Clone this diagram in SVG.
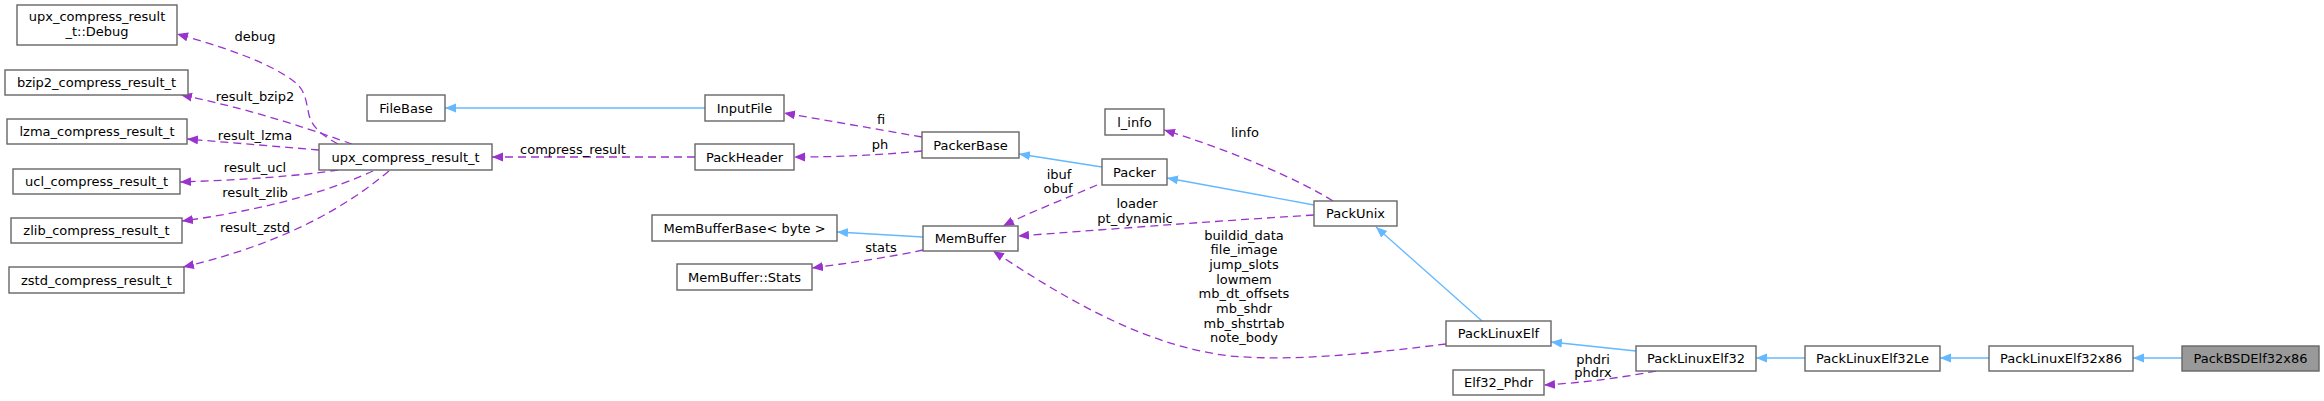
<svg xmlns="http://www.w3.org/2000/svg" width="2324" height="401" viewBox="0 0 2324 401">
<style>
.n rect{fill:#fff;stroke:#666;stroke-width:1.4}
.cur rect{fill:#999}
text{font-family:"DejaVu Sans",sans-serif;font-size:13px;fill:#000;text-anchor:middle}
.inh{fill:none;stroke:#63b8ff;stroke-width:1.3;marker-end:url(#ab)}
.use{fill:none;stroke:#9a32cd;stroke-width:1.3;stroke-dasharray:8,5;marker-end:url(#ap)}
</style>
<defs>
<marker id="ab" markerUnits="userSpaceOnUse" markerWidth="12" markerHeight="10" refX="11" refY="4.5" orient="auto"><path d="M0,0 L11,4.5 L0,9 z" fill="#63b8ff"/></marker>
<marker id="ap" markerUnits="userSpaceOnUse" markerWidth="12" markerHeight="10" refX="11" refY="4.5" orient="auto"><path d="M0,0 L11,4.5 L0,9 z" fill="#9a32cd"/></marker>
</defs>
<rect width="2324" height="401" fill="#fff"/>
<g id="edges">
<path class="use" d="M338,144 C325,137 312,128 309,115 C306,102 306,92 296,83 C270,62 220,46 177,34"/>
<path class="use" d="M352,144 C320,133 260,111 181,95"/>
<path class="use" d="M319,150 L187,139"/>
<path class="use" d="M338,170 C300,176 240,180 180,182"/>
<path class="use" d="M373,171 C340,186 280,208 182,221"/>
<path class="use" d="M389,171 C360,195 300,240 183,267"/>
<path class="use" d="M695,157 L492,157"/>
<path class="use" d="M922,137 L784,113"/>
<path class="use" d="M922,151 C880,155 840,157 794,157"/>
<path class="inh" d="M705,108 L445,108"/>
<path class="inh" d="M1102,167 L1019,154"/>
<path class="use" d="M1097,185 C1070,197 1030,212 1003,226"/>
<path class="inh" d="M1314,205 L1167,178"/>
<path class="use" d="M1333,201 C1300,180 1230,150 1164,130"/>
<path class="use" d="M1314,215 C1200,222 1100,230 1018,236"/>
<path class="inh" d="M1482,321 L1376,227"/>
<path class="use" d="M1446,344 C1380,352 1300,362 1230,356 C1140,345 1060,295 993,251"/>
<path class="inh" d="M1636,351 L1551,342"/>
<path class="use" d="M1656,371 C1620,378 1580,383 1544,385"/>
<path class="inh" d="M1805,358 L1756,358"/>
<path class="inh" d="M1989,358 L1940,358"/>
<path class="inh" d="M2182,358 L2133,358"/>
<path class="inh" d="M923,237 L837,232"/>
<path class="use" d="M923,250 C890,257 850,263 812,268"/>
<text x="255" y="40.5">debug</text>
<text x="255" y="100.5">result_bzip2</text>
<text x="255" y="139.5">result_lzma</text>
<text x="255" y="171.5">result_ucl</text>
<text x="255" y="196.5">result_zlib</text>
<text x="255" y="231.5">result_zstd</text>
<text x="573" y="153.5">compress_result</text>
<text x="881" y="123.5">fi</text>
<text x="880" y="148.5">ph</text>
<text x="881" y="251.5">stats</text>
<text x="1059" y="178.5">ibuf</text>
<text x="1058" y="192.5">obuf</text>
<text x="1245" y="136.5">linfo</text>
<text x="1137" y="207.5">loader</text>
<text x="1135" y="222.5">pt_dynamic</text>
<text x="1244" y="239.5">buildid_data</text>
<text x="1244" y="254.2">file_image</text>
<text x="1244" y="268.9">jump_slots</text>
<text x="1244" y="283.6">lowmem</text>
<text x="1244" y="298.3">mb_dt_offsets</text>
<text x="1244" y="313">mb_shdr</text>
<text x="1244" y="327.7">mb_shstrtab</text>
<text x="1244" y="342.4">note_body</text>
<text x="1593" y="363.5">phdri</text>
<text x="1593" y="376.5">phdrx</text>
</g>
<g id="upx_debug" class="n"><rect x="17" y="5" width="160" height="40"/><text x="97" y="21">upx_compress_result</text><text x="97" y="36">_t::Debug</text></g>
<g id="bzip2" class="n"><rect x="5" y="70" width="183" height="25"/><text x="96.5" y="87">bzip2_compress_result_t</text></g>
<g id="lzma" class="n"><rect x="7" y="119" width="180" height="25"/><text x="97" y="136">lzma_compress_result_t</text></g>
<g id="ucl" class="n"><rect x="13" y="169" width="167" height="25"/><text x="96.5" y="186">ucl_compress_result_t</text></g>
<g id="zlib" class="n"><rect x="11" y="218" width="171" height="25"/><text x="96.5" y="235">zlib_compress_result_t</text></g>
<g id="zstd" class="n"><rect x="9" y="267" width="175" height="26"/><text x="96.5" y="284.5">zstd_compress_result_t</text></g>
<g id="FileBase" class="n"><rect x="367" y="95" width="78" height="26"/><text x="406" y="112.5">FileBase</text></g>
<g id="upx" class="n"><rect x="319" y="144" width="173" height="26"/><text x="405.5" y="161.5">upx_compress_result_t</text></g>
<g id="InputFile" class="n"><rect x="705" y="95" width="79" height="26"/><text x="744.5" y="112.5">InputFile</text></g>
<g id="PackHeader" class="n"><rect x="695" y="144" width="99" height="26"/><text x="744.5" y="161.5">PackHeader</text></g>
<g id="PackerBase" class="n"><rect x="922" y="132" width="97" height="26"/><text x="970.5" y="149.5">PackerBase</text></g>
<g id="MemBufferBase" class="n"><rect x="652" y="215" width="185" height="26"/><text x="744.5" y="232.5">MemBufferBase&lt; byte &gt;</text></g>
<g id="MemBuffer" class="n"><rect x="923" y="226" width="95" height="25"/><text x="970.5" y="243">MemBuffer</text></g>
<g id="Stats" class="n"><rect x="677" y="264" width="135" height="26"/><text x="744.5" y="281.5">MemBuffer::Stats</text></g>
<g id="l_info" class="n"><rect x="1105" y="109" width="59" height="26"/><text x="1134.5" y="126.5">l_info</text></g>
<g id="Packer" class="n"><rect x="1102" y="159" width="65" height="26"/><text x="1134.5" y="176.5">Packer</text></g>
<g id="PackUnix" class="n"><rect x="1314" y="201" width="83" height="25"/><text x="1355.5" y="218">PackUnix</text></g>
<g id="PackLinuxElf" class="n"><rect x="1446" y="321" width="105" height="25"/><text x="1498.5" y="338">PackLinuxElf</text></g>
<g id="Elf32_Phdr" class="n"><rect x="1453" y="370" width="91" height="25"/><text x="1498.5" y="387">Elf32_Phdr</text></g>
<g id="PackLinuxElf32" class="n"><rect x="1636" y="346" width="120" height="25"/><text x="1696" y="363">PackLinuxElf32</text></g>
<g id="PackLinuxElf32Le" class="n"><rect x="1805" y="346" width="135" height="25"/><text x="1872.5" y="363">PackLinuxElf32Le</text></g>
<g id="PackLinuxElf32x86" class="n"><rect x="1989" y="346" width="144" height="25"/><text x="2061" y="363">PackLinuxElf32x86</text></g>
<g id="PackBSDElf32x86" class="n cur"><rect x="2182" y="346" width="137" height="25"/><text x="2250.5" y="363">PackBSDElf32x86</text></g>
</svg>
